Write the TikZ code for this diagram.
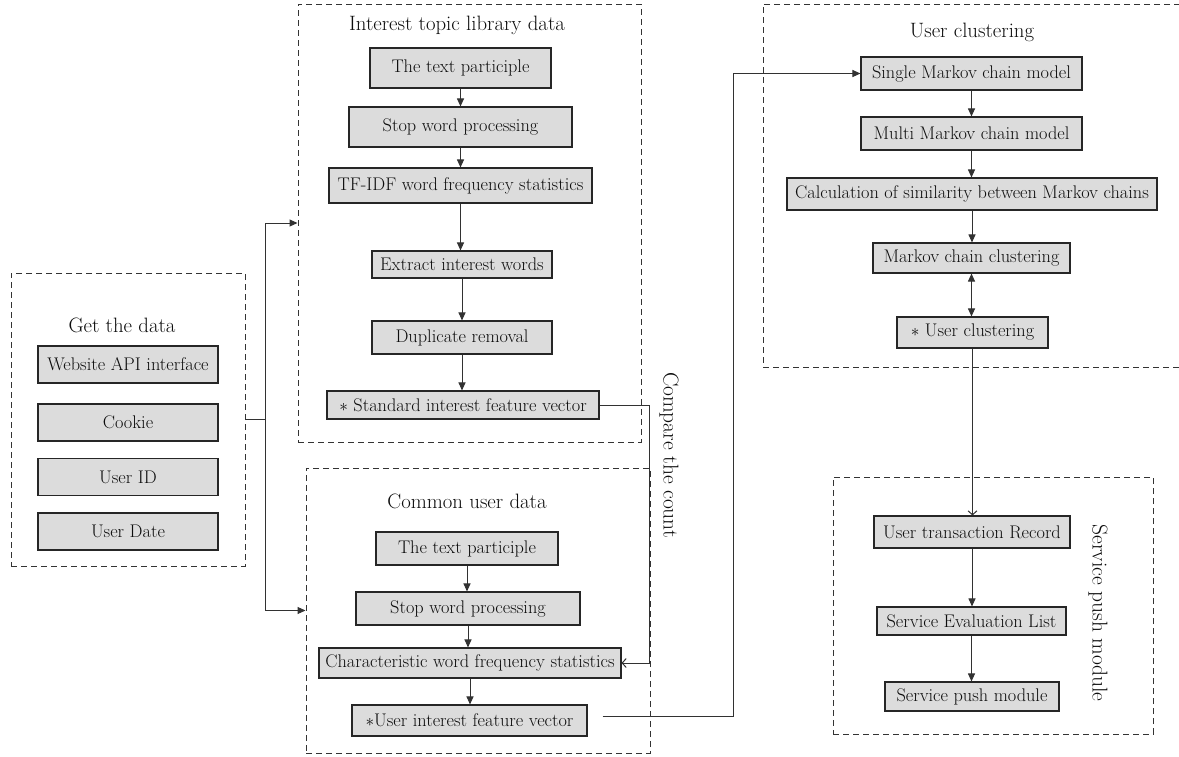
\documentclass[tikz,border=0pt]{standalone}
\usetikzlibrary{arrows.meta}

\definecolor{boxgray}{RGB}{220,220,220}
\definecolor{linegray}{RGB}{50,50,50}

\begin{document}
\begin{tikzpicture}[x=1pt, y=-1pt,
    box/.style={draw=black!85, line width=1.1pt, fill=boxgray, inner sep=0pt,
        text=black!95, font=\fontsize{18.3}{21}\selectfont},
    group/.style={draw=black!80, line width=1pt, dash pattern=on 6pt off 4pt, inner sep=0pt},
    title/.style={text=black!95, font=\fontsize{20.8}{24}\selectfont},
    side/.style={text=black!95, font=\fontsize{21.5}{25}\selectfont, rotate=-90},
    arr/.style={draw=linegray, line width=1pt, -{Triangle[length=8pt,width=7pt]}},
    openarr/.style={draw=linegray, line width=1pt, -{Straight Barb[length=4pt,width=9pt]}}]
  \useasboundingbox (0, 0) rectangle (1179, 756);

  % get the data
  \node[group, minimum width=234pt, minimum height=293pt] (get) at (128, 419.5) {};
  \node[title] (gettitle) at (122, 325) {Get the data};
  \foreach \n/\t/\y in {api/Website API interface/364.5, cookie/Cookie/422.5,
      uid/User ID/477, udate/User Date/531.5} {
      \node[box, minimum width=180pt, minimum height=37pt] (\n) at (128, \y) {\t};
    }

  % interest topic library data
  \node[group, minimum width=343pt, minimum height=438pt] (topic) at (469.5, 223) {};
  \node[title] (topictitle) at (457, 25) {Interest topic library data};
  \node[box, minimum width=181pt, minimum height=40pt] (tpa) at (460.5, 68) {The text participle};
  \node[box, minimum width=223pt, minimum height=40pt] (swa) at (460.5, 127) {Stop word processing};
  \node[box, minimum width=263pt, minimum height=35pt] (tfidf) at (460.5, 185.5) {TF-IDF word frequency statistics};
  \node[box, minimum width=180pt, minimum height=27pt] (extract) at (462, 264.5) {Extract interest words};
  \node[box, minimum width=180pt, minimum height=33pt] (dup) at (462, 337.5) {Duplicate removal};
  \node[box, minimum width=272pt, minimum height=28pt] (std) at (463, 405) {$\ast$ Standard interest feature vector};

  % common user data
  \node[group, minimum width=344pt, minimum height=285pt] (common) at (478, 610.5) {};
  \node[title] (commontitle) at (467, 501) {Common user data};
  \node[box, minimum width=182pt, minimum height=33pt] (tpb) at (467, 548.5) {The text participle};
  \node[box, minimum width=224pt, minimum height=33pt] (swb) at (468, 608.5) {Stop word processing};
  \node[box, minimum width=302pt, minimum height=30pt] (char) at (470, 663) {Characteristic word frequency statistics};
  \node[box, minimum width=235pt, minimum height=31pt] (uiv) at (469.5, 720.5) {$\ast$User interest feature vector};

  % user clustering
  \node[group, minimum width=422pt, minimum height=363pt] (clus) at (974, 185.5) {};
  \node[title] (clustitle) at (972, 32) {User clustering};
  \node[box, minimum width=221pt, minimum height=33pt] (single) at (971.5, 73.5) {Single Markov chain model};
  \node[box, minimum width=221pt, minimum height=33pt] (multi) at (971.5, 133.5) {Multi Markov chain model};
  \node[box, minimum width=370pt, minimum height=32pt] (calc) at (972, 194) {Calculation of similarity between Markov chains};
  \node[box, minimum width=197pt, minimum height=30pt] (mcc) at (971.5, 258) {Markov chain clustering};
  \node[box, minimum width=151pt, minimum height=31pt] (ucl) at (972.5, 332.5) {$\ast$ User clustering};

  % service push module
  \node[group, minimum width=320pt, minimum height=257pt] (push) at (993, 605.5) {};
  \node[box, minimum width=196pt, minimum height=32pt] (rec) at (972, 532) {User transaction Record};
  \node[box, minimum width=189pt, minimum height=28pt] (sel) at (971.5, 621) {Service Evaluation List};
  \node[box, minimum width=174pt, minimum height=29pt] (spm) at (972, 696.5) {Service push module};
  \node[side] (pushlabel) at (1098, 613) {Service push module};
  \node[side] (cmplabel) at (669, 455) {Compare the count};

  % connectors
  \draw[arr] (get.east) -- ++(20, 0) |- (topic.west);
  \draw[arr] (get.east) -- ++(20, 0) |- (common.west);

  \foreach \a/\b in {tpa/swa, swa/tfidf, tfidf/extract, extract/dup, dup/std,
      tpb/swb, swb/char, char/uiv, single/multi, multi/calc, calc/mcc,
      rec/sel, sel/spm} {
      \draw[arr] (\a.south) -- (\a.south |- \b.north);
    }
  \draw[arr, {Triangle[length=8pt,width=7pt]}-{Triangle[length=8pt,width=7pt]}] (mcc.south) -- (mcc.south |- ucl.north);

  \coordinate (cmp) at (649, 405);
  \draw[openarr] (std.east) -- (cmp) |- (char.east);

  \coordinate (up) at (733, 716);
  \draw[arr] ([xshift=15pt, yshift=4.5pt]uiv.east) -- (up) |- (single.west);

  \draw[openarr] (ucl.south) -- (ucl.south |- rec.north);
\end{tikzpicture}
\end{document}
